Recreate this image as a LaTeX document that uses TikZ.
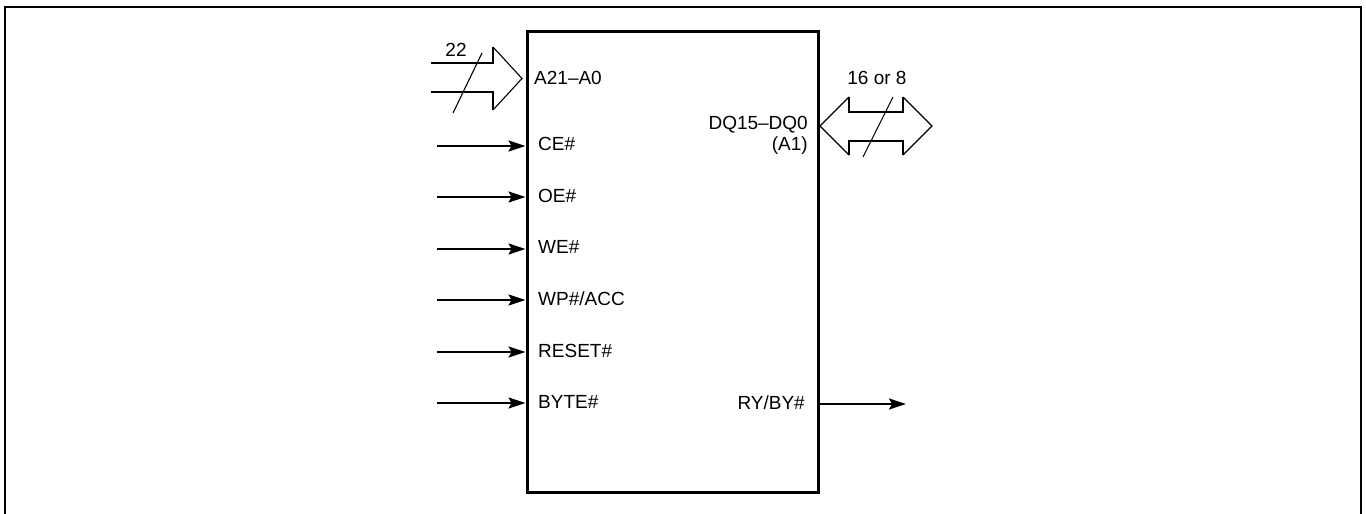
\documentclass[tikz,border=0pt]{standalone}
\usepackage{fontspec}
\setmainfont{Liberation Sans}
\usetikzlibrary{arrows.meta}
\begin{document}
\begin{tikzpicture}[x=1pt,y=-1pt,
  lbl/.style={font=\fontsize{19}{22}\selectfont, inner sep=0pt},
  sig/.style={line width=2pt, -{Stealth[length=17pt,width=11pt,inset=3pt]}},
  busline/.style={line width=2pt},
  busedge/.style={line width=1.1pt, line join=miter},
  slash/.style={line width=1.1pt}]
\useasboundingbox (0,0) rectangle (1366,514);
% outer frame (open at bottom)
\draw[line width=2pt] (5,514) -- (5,7) -- (1361,7) -- (1361,514);
% chip
\node[draw, line width=3pt, minimum width=291pt, minimum height=461pt, inner sep=0pt] (chip) at (672.5,261.5) {};
% pin labels
\node[lbl, anchor=west] (a) at (534,78) {A21–A0};
\node[lbl, anchor=west] (ce) at (538,144) {CE\#};
\node[lbl, anchor=west] (oe) at (538,196) {OE\#};
\node[lbl, anchor=west] (we) at (538,247) {WE\#};
\node[lbl, anchor=west] (wp) at (538,299) {WP\#/ACC};
\node[lbl, anchor=west] (rst) at (538,351) {RESET\#};
\node[lbl, anchor=west] (byte) at (538,402) {BYTE\#};
\node[lbl, anchor=east] (dq) at (808,125) {DQ15–DQ0};
\node[lbl, anchor=east] (a1) at (808,146) {(A1)};
\node[lbl, anchor=east] (ry) at (805,403) {RY/BY\#};
\node[lbl] (n22) at (456,50) {22};
\node[lbl] (n16) at (877,78) {16 or 8};
% input signal start points
\coordinate (ceIn) at (437,146);
\coordinate (oeIn) at (437,197);
\coordinate (weIn) at (437,249);
\coordinate (wpIn) at (437,300);
\coordinate (rstIn) at (437,352);
\coordinate (byteIn) at (437,403);
\coordinate (ryOut) at (906,404);
\foreach \c in {ceIn,oeIn,weIn,wpIn,rstIn,byteIn}
  \draw[sig] (\c) -- (\c -| chip.west);
\draw[sig] (ryOut -| chip.east) -- (ryOut);
% address bus arrow
\draw[busline] (431,63) -- (493,63) -- (493,47);
\draw[busline] (431,92) -- (493,92) -- (493,110);
\draw[busedge] (493,47) -- (522,78.5) -- (493,110);
\draw[slash] (453,113) -- (482,53);
% data bus arrow
\draw[busline] (849,97) -- (849,112) -- (903,112) -- (903,97);
\draw[busline] (849,155) -- (849,141) -- (903,141) -- (903,155);
\draw[busedge] (849,97) -- (820,126) -- (849,155);
\draw[busedge] (903,97) -- (932,126) -- (903,155);
\draw[slash] (863,157) -- (893,97);
\end{tikzpicture}
\end{document}
